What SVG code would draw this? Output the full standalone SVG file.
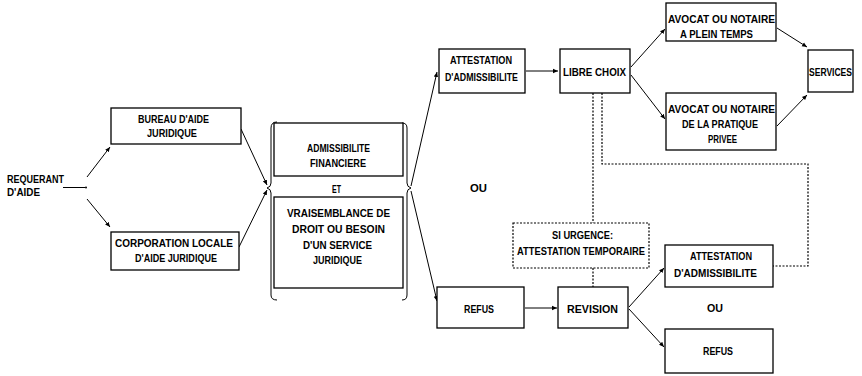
<svg xmlns="http://www.w3.org/2000/svg" width="862" height="376" viewBox="0 0 862 376">
<defs>
<marker id="ah" markerUnits="userSpaceOnUse" markerWidth="6" markerHeight="6" refX="5" refY="3" orient="auto"><path d="M0,0.8 L5,3 L0,5.2 Z" fill="#000"/></marker>
<style>
.b{fill:#fff;stroke:#000;stroke-width:1.3}
.d{fill:#fff;stroke:#000;stroke-width:1.2;stroke-dasharray:2 1.5}
.t{font-family:"Liberation Sans",Arial,sans-serif;font-weight:bold;font-size:10.5px;fill:#000}
.l{fill:none;stroke:#000;stroke-width:1}
.dl{fill:none;stroke:#000;stroke-width:1.2;stroke-dasharray:2 1.5}
</style>
</defs>
<rect width="862" height="376" fill="#fff"/>
<g id="connectors">
<line class="l" x1="63" y1="187.5" x2="85" y2="187.5"/>
<circle cx="86" cy="187.5" r="1" fill="#000"/>
<line class="l" x1="87" y1="177" x2="110" y2="147" marker-end="url(#ah)"/>
<line class="l" x1="87" y1="199" x2="110" y2="227" marker-end="url(#ah)"/>
<line class="l" x1="241" y1="129" x2="267" y2="185" marker-end="url(#ah)"/>
<line class="l" x1="239" y1="247" x2="267" y2="190" marker-end="url(#ah)"/>
<line class="l" x1="411" y1="186" x2="437" y2="72" marker-end="url(#ah)"/>
<line class="l" x1="411" y1="191" x2="437" y2="301" marker-end="url(#ah)"/>
<line class="l" x1="526" y1="71" x2="558" y2="71" marker-end="url(#ah)"/>
<line class="l" x1="631" y1="67" x2="665" y2="29" marker-end="url(#ah)"/>
<line class="l" x1="631" y1="75" x2="665" y2="119" marker-end="url(#ah)"/>
<line class="l" x1="777" y1="28" x2="807" y2="47" marker-end="url(#ah)"/>
<line class="l" x1="777" y1="126" x2="807" y2="95" marker-end="url(#ah)"/>
<line class="l" x1="525" y1="308" x2="557" y2="308" marker-end="url(#ah)"/>
<line class="l" x1="629" y1="307" x2="664" y2="268" marker-end="url(#ah)"/>
<line class="l" x1="629" y1="309" x2="664" y2="347" marker-end="url(#ah)"/>
<line class="dl" x1="593" y1="93" x2="593" y2="223"/>
<polyline class="dl" points="602,93 602,164 808,164 808,266 773,266"/>
<line class="dl" x1="593" y1="268" x2="593" y2="287"/>
<path class="l" stroke-width="1.2" d="M277,122 Q271,122 271,128 L271,183 Q271,187 267,188 Q271,189 271,193 L271,295 Q271,300 277,300"/>
<path class="l" stroke-width="1.2" d="M402,123 Q407,123 407,128 L407,183 Q407,187 411,188 Q407,189 407,193 L407,295 Q407,300 402,300"/>
</g>
<g id="requerant">
<text class="t" x="7" y="183" font-size="10" textLength="57" lengthAdjust="spacingAndGlyphs">REQUERANT</text>
<text class="t" x="7" y="196" font-size="10" textLength="33" lengthAdjust="spacingAndGlyphs">D'AIDE</text>
</g>
<g id="bureau">
<rect class="b" x="111" y="108" width="130" height="36"/>
<text class="t" x="138" y="123" textLength="71" lengthAdjust="spacingAndGlyphs">BUREAU D'AIDE</text>
<text class="t" x="147" y="137" textLength="50" lengthAdjust="spacingAndGlyphs">JURIDIQUE</text>
</g>
<g id="corporation">
<rect class="b" x="111" y="232" width="128" height="38"/>
<text class="t" x="115" y="247" textLength="118" lengthAdjust="spacingAndGlyphs">CORPORATION LOCALE</text>
<text class="t" x="135" y="262" textLength="82" lengthAdjust="spacingAndGlyphs">D'AIDE JURIDIQUE</text>
</g>
<g id="admissibilite-financiere">
<rect class="b" x="274" y="123" width="129" height="53"/>
<text class="t" x="307" y="152" textLength="63" lengthAdjust="spacingAndGlyphs">ADMISSIBILITE</text>
<text class="t" x="310" y="167" textLength="56" lengthAdjust="spacingAndGlyphs">FINANCIERE</text>
</g>
<g id="et">
<text class="t" x="332" y="193" textLength="9" lengthAdjust="spacingAndGlyphs">ET</text>
</g>
<g id="vraisemblance">
<rect class="b" x="274" y="197" width="129" height="91"/>
<text class="t" x="287" y="217" textLength="103" lengthAdjust="spacingAndGlyphs">VRAISEMBLANCE DE</text>
<text class="t" x="292" y="233" textLength="93" lengthAdjust="spacingAndGlyphs">DROIT OU BESOIN</text>
<text class="t" x="303" y="249" textLength="69" lengthAdjust="spacingAndGlyphs">D'UN SERVICE</text>
<text class="t" x="313" y="264" textLength="49" lengthAdjust="spacingAndGlyphs">JURIDIQUE</text>
</g>
<g id="ou-middle">
<text class="t" x="470" y="192" textLength="17" lengthAdjust="spacingAndGlyphs">OU</text>
</g>
<g id="attestation1">
<rect class="b" x="439" y="49" width="86" height="44"/>
<text class="t" x="450" y="64" textLength="62" lengthAdjust="spacingAndGlyphs">ATTESTATION</text>
<text class="t" x="445" y="81" textLength="73" lengthAdjust="spacingAndGlyphs">D'ADMISSIBILITE</text>
</g>
<g id="libre-choix">
<rect class="b" x="560" y="49" width="70" height="44"/>
<text class="t" x="563" y="76" textLength="63" lengthAdjust="spacingAndGlyphs">LIBRE CHOIX</text>
</g>
<g id="avocat-plein-temps">
<rect class="b" x="666" y="3" width="110" height="38"/>
<text class="t" x="668" y="23" textLength="107" lengthAdjust="spacingAndGlyphs">AVOCAT OU NOTAIRE</text>
<text class="t" x="680" y="38" textLength="73" lengthAdjust="spacingAndGlyphs">A PLEIN TEMPS</text>
</g>
<g id="avocat-privee">
<rect class="b" x="666" y="93" width="110" height="57"/>
<text class="t" x="668" y="113" textLength="107" lengthAdjust="spacingAndGlyphs">AVOCAT OU NOTAIRE</text>
<text class="t" x="682" y="128" textLength="76" lengthAdjust="spacingAndGlyphs">DE LA PRATIQUE</text>
<text class="t" x="708" y="143" textLength="29" lengthAdjust="spacingAndGlyphs">PRIVEE</text>
</g>
<g id="services">
<rect class="b" x="808" y="50" width="45" height="42"/>
<text class="t" x="809" y="76" textLength="43" lengthAdjust="spacingAndGlyphs">SERVICES</text>
</g>
<g id="si-urgence">
<rect class="d" x="513" y="223" width="136" height="45"/>
<text class="t" x="552" y="239" textLength="61" lengthAdjust="spacingAndGlyphs">SI URGENCE:</text>
<text class="t" x="517" y="255" textLength="128" lengthAdjust="spacingAndGlyphs">ATTESTATION TEMPORAIRE</text>
</g>
<g id="refus1">
<rect class="b" x="437" y="287" width="87" height="41"/>
<text class="t" x="464" y="313" textLength="30" lengthAdjust="spacingAndGlyphs">REFUS</text>
</g>
<g id="revision">
<rect class="b" x="558" y="287" width="70" height="41"/>
<text class="t" x="567" y="313" textLength="51" lengthAdjust="spacingAndGlyphs">REVISION</text>
</g>
<g id="attestation2">
<rect class="b" x="665" y="245" width="108" height="42"/>
<text class="t" x="690" y="260" textLength="62" lengthAdjust="spacingAndGlyphs">ATTESTATION</text>
<text class="t" x="674" y="277" textLength="83" lengthAdjust="spacingAndGlyphs">D'ADMISSIBILITE</text>
</g>
<g id="ou-right">
<text class="t" x="707" y="312" textLength="16" lengthAdjust="spacingAndGlyphs">OU</text>
</g>
<g id="refus2">
<rect class="b" x="665" y="329" width="108" height="44"/>
<text class="t" x="703" y="355" textLength="30" lengthAdjust="spacingAndGlyphs">REFUS</text>
</g>
</svg>
